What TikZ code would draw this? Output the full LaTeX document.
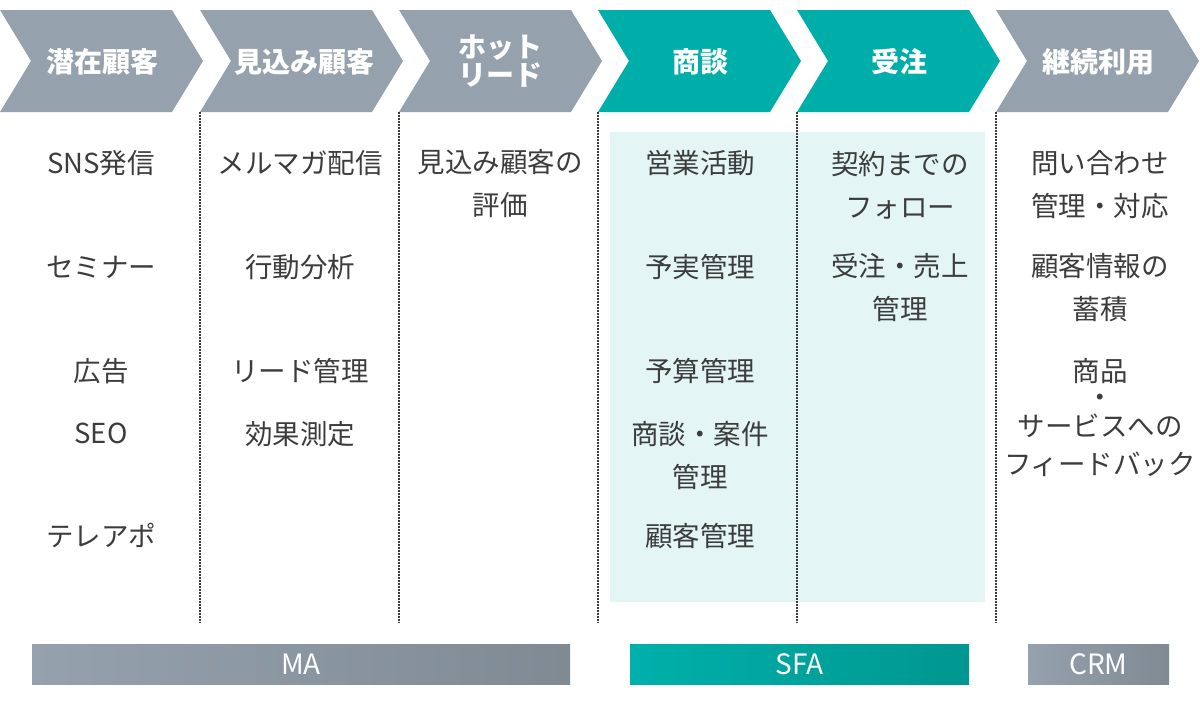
\documentclass[tikz,border=0pt]{standalone}
\usepackage{fontspec}
\setmainfont{Noto Sans CJK JP}
\definecolor{chevgrey}{HTML}{95A1AD}
\definecolor{chevteal}{HTML}{00AEA9}
\definecolor{lightteal}{HTML}{E3F5F5}
\definecolor{txt}{HTML}{3C3C3C}
\definecolor{dotc}{HTML}{3A3A3A}
\definecolor{greyR}{HTML}{7F8A93}
\definecolor{tealL}{HTML}{00B0AA}
\definecolor{tealR}{HTML}{009790}
\begin{document}
\begin{tikzpicture}[x=1pt,y=-1pt,
  headtxt/.style={text=white, font=\bfseries\fontsize{28}{28}\selectfont, align=center, inner sep=0pt},
  item/.style={text=txt, font=\fontsize{27.5}{43}\selectfont, align=center, inner sep=0pt},
  sepline/.style={draw=dotc, line width=1.6pt, dash pattern=on 1.5pt off 1.5pt},
  bar/.style 2 args={rectangle, left color=#1, right color=#2, draw=none, inner sep=0pt,
    minimum height=40pt, text=white, font=\fontsize{28}{30}\selectfont}]
\useasboundingbox (0,0) rectangle (1200,705);
% chevrons
\foreach \x/\c in {0/chevgrey,200/chevgrey,399/chevgrey,598/chevteal,797/chevteal,996/chevgrey}
  \fill[\c] (\x,10) -- ++(172,0) -- ++(31,51) -- ++(-31,51) -- ++(-172,0) -- ++(31,-51) -- cycle;
\node[headtxt] (h1) at (102,62) {潜在顧客};
\node[headtxt] (h2) at (304,62) {見込み顧客};
\node[headtxt] (h3) at (500,61) {ホット\\リード};
\node[headtxt] (h4) at (700,62) {商談};
\node[headtxt] (h5) at (899,62) {受注};
\node[headtxt] (h6) at (1098,62) {継続利用};
% light background
\fill[lightteal] (610,132) rectangle (985,602);
% separators
\foreach \x in {200,399,598,797,996}
  \draw[sepline] (\x,112) -- (\x,623);
% column 1
\node[item] (a1) at (101,163) {SNS発信};
\node[item] (a2) at (101,267) {セミナー};
\node[item] (a3) at (101,371) {広告};
\node[item] (a4) at (101,433) {SEO};
\node[item] (a5) at (101,535) {テレアポ};
% column 2
\node[item] (b1) at (300,163) {メルマガ配信};
\node[item] (b2) at (300,267) {行動分析};
\node[item] (b3) at (300,371) {リード管理};
\node[item] (b4) at (300,434) {効果測定};
% column 3
\node[item] (c1) at (500,184) {見込み顧客の\\評価};
% column 4
\node[item] (d1) at (700,163) {営業活動};
\node[item] (d2) at (700,267) {予実管理};
\node[item] (d3) at (700,371) {予算管理};
\node[item] (d4) at (700,456) {商談・案件\\管理};
\node[item] (d5) at (700,536) {顧客管理};
% column 5
\node[item] (e1) at (900,185) {契約までの\\フォロー};
\node[item] (e2) at (900,288) {受注・売上\\管理};
% column 6
\node[item] (f1) at (1100,185) {問い合わせ\\管理・対応};
\node[item] (f2) at (1100,288) {顧客情報の\\蓄積};
\node[item] (f3) at (1100,418) {商品\\[-17pt]・\\[-14pt]サービスへの\\[-5pt]フィードバック};
% bottom bars
\node[bar={chevgrey}{greyR}, minimum width=538pt] (ma) at (301,664) {MA};
\node[bar={tealL}{tealR}, minimum width=339pt] (sfa) at (799.5,664) {SFA};
\node[bar={chevgrey}{greyR}, minimum width=141pt] (crm) at (1098.5,664) {CRM};
\end{tikzpicture}
\end{document}
